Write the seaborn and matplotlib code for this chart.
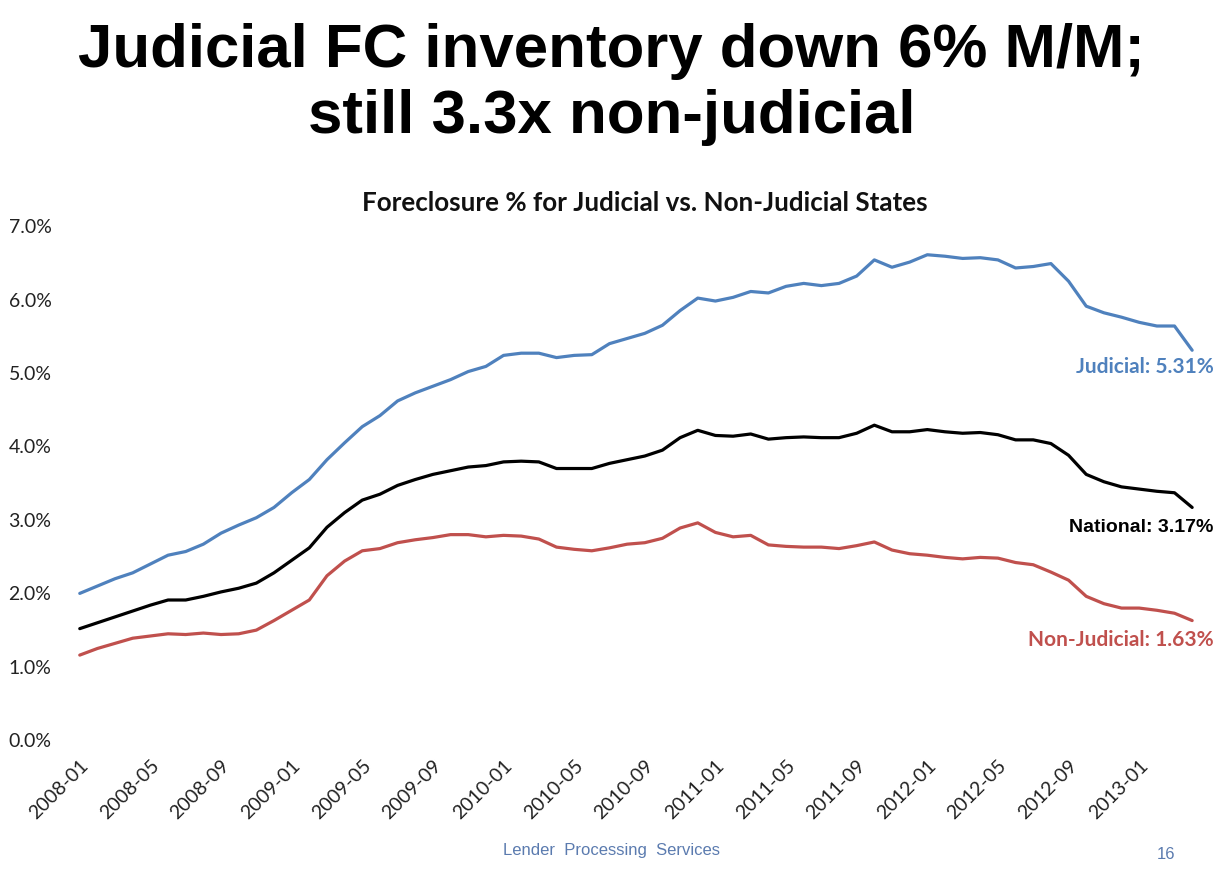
import numpy as np
import pandas as pd
import matplotlib
matplotlib.use("Agg")
import matplotlib.pyplot as plt
import seaborn as sns

months = pd.period_range("2008-01", "2013-04", freq="M").strftime("%Y-%m").tolist()

judicial = [2.00, 2.10, 2.20, 2.28, 2.40, 2.52, 2.57, 2.67, 2.82, 2.93, 3.03, 3.17,
            3.37, 3.55, 3.82, 4.05, 4.27, 4.42, 4.62, 4.73, 4.82, 4.91, 5.02, 5.09,
            5.24, 5.27, 5.27, 5.21, 5.24, 5.25, 5.40, 5.47, 5.54, 5.65, 5.85, 6.02,
            5.98, 6.03, 6.11, 6.09, 6.18, 6.22, 6.19, 6.22, 6.32, 6.54, 6.44, 6.51,
            6.61, 6.59, 6.56, 6.57, 6.54, 6.43, 6.45, 6.49, 6.25, 5.91, 5.82, 5.76,
            5.69, 5.64, 5.64, 5.31]
national = [1.52, 1.60, 1.68, 1.76, 1.84, 1.91, 1.91, 1.96, 2.02, 2.07, 2.14, 2.28,
            2.45, 2.62, 2.90, 3.10, 3.27, 3.35, 3.47, 3.55, 3.62, 3.67, 3.72, 3.74,
            3.79, 3.80, 3.79, 3.70, 3.70, 3.70, 3.77, 3.82, 3.87, 3.95, 4.12, 4.22,
            4.15, 4.14, 4.17, 4.10, 4.12, 4.13, 4.12, 4.12, 4.18, 4.29, 4.20, 4.20,
            4.23, 4.20, 4.18, 4.19, 4.16, 4.09, 4.09, 4.04, 3.88, 3.62, 3.52, 3.45,
            3.42, 3.39, 3.37, 3.17]
non_judicial = [1.16, 1.25, 1.32, 1.39, 1.42, 1.45, 1.44, 1.46, 1.44, 1.45, 1.50, 1.63,
                1.77, 1.91, 2.24, 2.44, 2.58, 2.61, 2.69, 2.73, 2.76, 2.80, 2.80, 2.77,
                2.79, 2.78, 2.74, 2.63, 2.60, 2.58, 2.62, 2.67, 2.69, 2.75, 2.89, 2.96,
                2.83, 2.77, 2.79, 2.66, 2.64, 2.63, 2.63, 2.61, 2.65, 2.70, 2.59, 2.54,
                2.52, 2.49, 2.47, 2.49, 2.48, 2.42, 2.39, 2.29, 2.18, 1.96, 1.86, 1.80,
                1.80, 1.77, 1.73, 1.63]

series_names = ["Judicial", "National", "Non-Judicial"]
end_labels = ["Judicial: 5.31%", "National: 3.17%", "Non-Judicial: 1.63%"]
colors = {"Judicial": "#4F81BD", "National": "#000000", "Non-Judicial": "#C0504D"}

rows = []
for name, vals in zip(series_names, [judicial, national, non_judicial]):
    for i, (m, v) in enumerate(zip(months, vals)):
        rows.append({"idx": i, "month": m, "value": v, "series": name})
df = pd.DataFrame(rows)

sns.set_theme(style="white")
plt.rcParams["font.family"] = ["Lato", "DejaVu Sans"]

fig = plt.figure(figsize=(12.23, 8.73), dpi=100)
ax = fig.add_axes([0.058, 0.152, 0.924, 0.589])

sns.lineplot(data=df, x="idx", y="value", hue="series", palette=colors,
             linewidth=2.3, ax=ax, legend=False)

ax.set_xlim(-0.5, len(months) - 0.5)
ax.set_ylim(0, 7)
ax.set_yticks(np.arange(0, 7.01, 1.0))
ax.set_yticklabels([f"{t:.1f}%" for t in np.arange(0, 7.01, 1.0)], fontsize=14, color="#222222")
tick_idx = list(range(0, len(months), 4))
ax.set_xticks(tick_idx)
ax.set_xticklabels([months[i] for i in tick_idx], rotation=45, ha="right",
                   rotation_mode="anchor", fontsize=14, color="#222222")
ax.tick_params(axis="y", length=0, pad=14)
ax.tick_params(axis="x", length=0, pad=12)
ax.set_xlabel("")
ax.set_ylabel("")
for s in ax.spines.values():
    s.set_visible(False)

# end labels
last = len(months) - 1
label_specs = [
    (judicial[-1], end_labels[0], "#4F81BD", -12, 15, ["Lato", "DejaVu Sans"]),
    (national[-1], end_labels[1], "#000000", -14.5, 14, ["Liberation Sans", "DejaVu Sans"]),
    (non_judicial[-1], end_labels[2], "#C0504D", -14, 15, ["Lato", "DejaVu Sans"]),
]
for yv, txt, col, dy, fs, fam in label_specs:
    ax.annotate(txt, xy=(last, yv), xytext=(15.5, dy), textcoords="offset points",
                ha="right", va="center", fontsize=fs, fontweight="bold",
                color=col, family=fam, annotation_clip=False)

fig.text(0.527, 0.767, "Foreclosure % for Judicial vs. Non-Judicial States",
         ha="center", va="center", fontsize=18.7, fontweight="bold", color="#111111")

fig.text(0.5, 0.903, "Judicial FC inventory down 6% M/M;\nstill 3.3x non-judicial",
         ha="center", va="center", fontsize=44.5, fontweight="bold",
         family=["Liberation Sans", "DejaVu Sans"], linespacing=1.2, color="black")

fig.text(0.5, 0.026, "Lender  Processing  Services", ha="center", va="center",
         fontsize=12, color="#5B7BAF", family=["Liberation Sans", "DejaVu Sans"])
fig.text(0.953, 0.021, "16", ha="center", va="center",
         fontsize=12, color="#5B7BAF", family=["Liberation Sans", "DejaVu Sans"])

fig.savefig("out.png", dpi=100)
